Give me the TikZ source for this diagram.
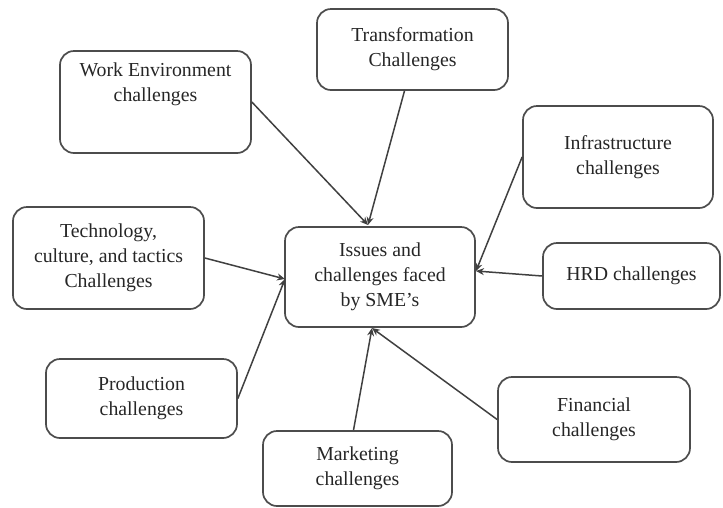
\documentclass[tikz,border=0pt]{standalone}
\usepackage{fontspec}
\setmainfont{Liberation Serif}
\usepackage{tikz}
\usetikzlibrary{calc,arrows.meta}

\begin{document}
\begin{tikzpicture}[x=1pt,y=-1pt,
  chbox/.style={draw=black!70,line width=1.7pt,rounded corners=14pt,align=center,
    inner sep=2pt,font=\fontsize{19.8}{25}\selectfont,text=black!85},
  feed/.style={draw=black!75,line width=1.5pt,-{Stealth[length=8pt,width=7pt]}}]
\useasboundingbox (0,0) rectangle (723,507);
\newcommand{\chnode}[6]{
  \node[chbox,minimum width=#4,minimum height=#5] (#1) at (#2,#3) {#6};
}
\chnode{issue}{380}{277}{190}{100}{Issues and\\challenges faced\\by SME's}
\chnode{work}{155.5}{102}{191}{102}{Work Environment\\challenges\\[14pt]}
\chnode{trans}{412.5}{49.5}{191}{81}{Transformation\\Challenges}
\chnode{infra}{618}{157}{190}{102}{Infrastructure\\challenges}
\chnode{tech}{108.5}{258}{191}{102}{Technology,\\culture, and tactics\\Challenges}
\chnode{hrd}{631.5}{276}{177}{66}{HRD challenges}
\chnode{prod}{141.5}{398.5}{191}{79}{Production\\challenges}
\chnode{mark}{357.5}{468.5}{189}{75}{Marketing\\challenges}
\chnode{fin}{594}{419.5}{192}{85}{Financial\\challenges}
% meeting points on the central box
\coordinate (inTop) at (368,225);
\coordinate (inRight) at (476,271);
\coordinate (inLeft) at (285,279);
\coordinate (inBot) at (372,328);
\draw[feed] (work.east) -- (inTop);
\draw[feed] ($(trans.south)+(-8,0)$) -- (inTop);
\draw[feed] (infra.west) -- (inRight);
\draw[feed] (hrd.west) -- (inRight);
\draw[feed] (tech.east) -- (inLeft);
\draw[feed] (prod.east) -- (inLeft);
\draw[feed] ($(mark.north)+(-4,0)$) -- (inBot);
\draw[feed] (fin.west) -- (inBot);
\end{tikzpicture}
\end{document}
